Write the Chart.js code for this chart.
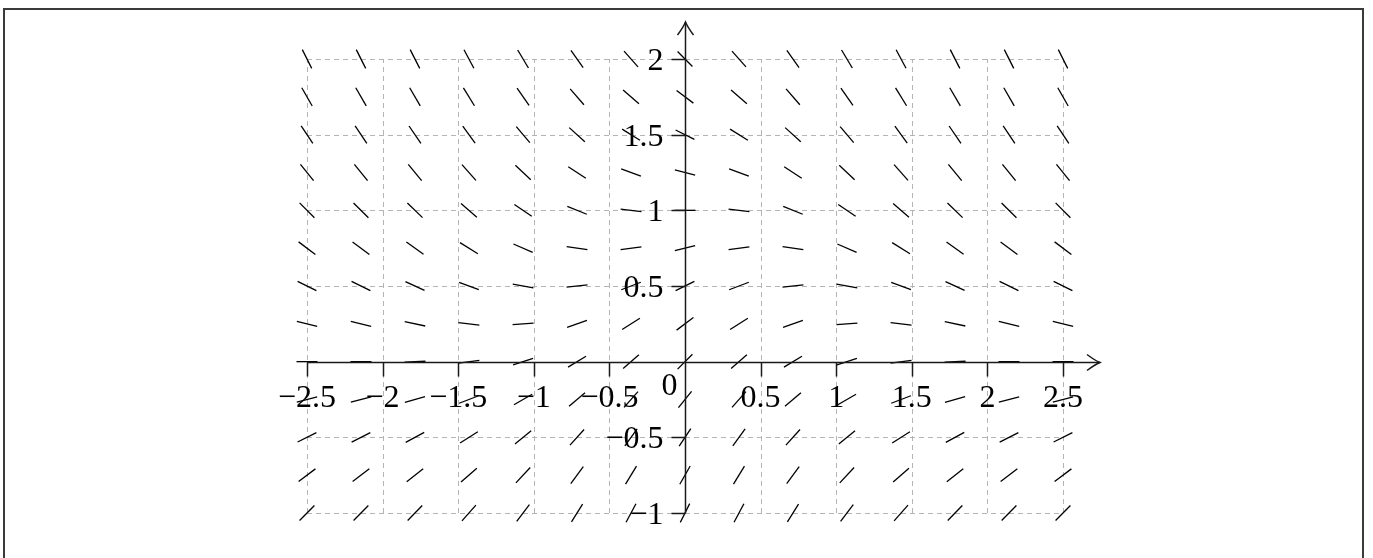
<!DOCTYPE html>
<html>
<head>
<meta charset="utf-8">
<script src="https://cdn.jsdelivr.net/npm/chart.js@4/dist/chart.umd.min.js"></script>
<style>
  html, body { margin: 0; padding: 0; background: #fff; overflow: hidden; }
  #wrap { position: relative; width: 1373px; height: 558px; }
  #c { position: absolute; left: 0; top: 0; }
  #frame { position: absolute; left: 3px; top: 8px; width: 1361px; height: 600px;
           border: 2px solid #3a3a3a; pointer-events: none; box-sizing: border-box; }
</style>
</head>
<body>
<div id="wrap">
  <canvas id="c" width="1373" height="558"></canvas>
  <div id="frame"></div>
</div>
<script>
// Sample positions of the slope field
const xValues = [-2.5, -2.143, -1.786, -1.429, -1.071, -0.714, -0.357, 0, 0.357, 0.714, 1.071, 1.429, 1.786, 2.143, 2.5];
const yValues = [-1, -0.75, -0.5, -0.25, 0, 0.25, 0.5, 0.75, 1, 1.25, 1.5, 1.75, 2];

// Slope (dy/dx) read at each sample, one row per yValue
const slopeRowYm100 = [1.00, 1.01, 1.04, 1.13, 1.32, 1.60, 1.88, 2.00, 1.88, 1.60, 1.32, 1.13, 1.04, 1.01, 1.00];
const slopeRowYm075 = [0.75, 0.76, 0.79, 0.88, 1.07, 1.35, 1.63, 1.75, 1.63, 1.35, 1.07, 0.88, 0.79, 0.76, 0.75];
const slopeRowYm050 = [0.50, 0.51, 0.54, 0.63, 0.82, 1.10, 1.38, 1.50, 1.38, 1.10, 0.82, 0.63, 0.54, 0.51, 0.50];
const slopeRowYm025 = [0.25, 0.26, 0.29, 0.38, 0.57, 0.85, 1.13, 1.25, 1.13, 0.85, 0.57, 0.38, 0.29, 0.26, 0.25];
const slopeRowY000  = [0.00, 0.01, 0.04, 0.13, 0.32, 0.60, 0.88, 1.00, 0.88, 0.60, 0.32, 0.13, 0.04, 0.01, 0.00];
const slopeRowY025  = [-0.25, -0.24, -0.21, -0.12, 0.07, 0.35, 0.63, 0.75, 0.63, 0.35, 0.07, -0.12, -0.21, -0.24, -0.25];
const slopeRowY050  = [-0.50, -0.49, -0.46, -0.37, -0.18, 0.10, 0.38, 0.50, 0.38, 0.10, -0.18, -0.37, -0.46, -0.49, -0.50];
const slopeRowY075  = [-0.75, -0.74, -0.71, -0.62, -0.43, -0.15, 0.13, 0.25, 0.13, -0.15, -0.43, -0.62, -0.71, -0.74, -0.75];
const slopeRowY100  = [-1.00, -0.99, -0.96, -0.87, -0.68, -0.40, -0.12, 0.00, -0.12, -0.40, -0.68, -0.87, -0.96, -0.99, -1.00];
const slopeRowY125  = [-1.25, -1.24, -1.21, -1.12, -0.93, -0.65, -0.37, -0.25, -0.37, -0.65, -0.93, -1.12, -1.21, -1.24, -1.25];
const slopeRowY150  = [-1.50, -1.49, -1.46, -1.37, -1.18, -0.90, -0.62, -0.50, -0.62, -0.90, -1.18, -1.37, -1.46, -1.49, -1.50];
const slopeRowY175  = [-1.75, -1.74, -1.71, -1.62, -1.43, -1.15, -0.87, -0.75, -0.87, -1.15, -1.43, -1.62, -1.71, -1.74, -1.75];
const slopeRowY200  = [-2.00, -1.99, -1.96, -1.87, -1.68, -1.40, -1.12, -1.00, -1.12, -1.40, -1.68, -1.87, -1.96, -1.99, -2.00];
const slopeRows = [slopeRowYm100, slopeRowYm075, slopeRowYm050, slopeRowYm025, slopeRowY000, slopeRowY025,
                   slopeRowY050, slopeRowY075, slopeRowY100, slopeRowY125, slopeRowY150, slopeRowY175, slopeRowY200];

// Axis tick values and labels
const xTicks = [-2.5, -2, -1.5, -1, -0.5, 0, 0.5, 1, 1.5, 2, 2.5];
const xTickLabels = ['\u22122.5', '\u22122', '\u22121.5', '\u22121', '\u22120.5', '', '0.5', '1', '1.5', '2', '2.5'];
const yTicks = [-1, -0.5, 0, 0.5, 1, 1.5, 2];
const yTickLabels = ['\u22121', '\u22120.5', '', '0.5', '1', '1.5', '2'];
const originLabel = '0';

const points = [];
yValues.forEach((y, r) => {
  xValues.forEach((x, c) => {
    points.push({ x: x, y: y, m: slopeRows[r][c] });
  });
});

const FONT = '32px "Liberation Serif", "Times New Roman", serif';

const fieldPlugin = {
  id: 'fieldAxes',
  beforeDatasetsDraw(chart) {
    const ctx = chart.ctx, xs = chart.scales.x, ys = chart.scales.y;
    ctx.save();
    ctx.strokeStyle = '#b4b4b4';
    ctx.lineWidth = 1;
    ctx.setLineDash([5, 4]);
    const x0 = xs.getPixelForValue(xs.min), x1 = xs.getPixelForValue(xs.max);
    const y0 = ys.getPixelForValue(ys.min), y1 = ys.getPixelForValue(ys.max);
    xTicks.forEach(v => {
      const px = Math.round(xs.getPixelForValue(v)) + 0.5;
      ctx.beginPath(); ctx.moveTo(px, y0); ctx.lineTo(px, y1); ctx.stroke();
    });
    yTicks.forEach(v => {
      const py = Math.round(ys.getPixelForValue(v)) + 0.5;
      ctx.beginPath(); ctx.moveTo(x0, py); ctx.lineTo(x1, py); ctx.stroke();
    });
    ctx.restore();
  },
  afterDatasetsDraw(chart) {
    const ctx = chart.ctx, xs = chart.scales.x, ys = chart.scales.y;
    const ox = Math.round(xs.getPixelForValue(0)) + 0.5;
    const oy = Math.round(ys.getPixelForValue(0)) + 0.5;
    const xL = xs.getPixelForValue(xs.min), xR = xs.getPixelForValue(xs.max);
    const yB = ys.getPixelForValue(ys.min), yT = ys.getPixelForValue(ys.max);
    const ext = 37;
    ctx.save();
    ctx.strokeStyle = '#1a1a1a';
    ctx.lineWidth = 1.5;
    ctx.setLineDash([]);
    // x axis
    ctx.beginPath(); ctx.moveTo(xL, oy); ctx.lineTo(xR + ext, oy); ctx.stroke();
    ctx.beginPath();
    ctx.moveTo(xR + ext - 13, oy - 8); ctx.quadraticCurveTo(xR + ext - 5, oy - 2, xR + ext, oy);
    ctx.quadraticCurveTo(xR + ext - 5, oy + 2, xR + ext - 13, oy + 8);
    ctx.stroke();
    // y axis
    ctx.beginPath(); ctx.moveTo(ox, yB); ctx.lineTo(ox, yT - ext); ctx.stroke();
    ctx.beginPath();
    ctx.moveTo(ox - 8, yT - ext + 13); ctx.quadraticCurveTo(ox - 2, yT - ext + 5, ox, yT - ext);
    ctx.quadraticCurveTo(ox + 2, yT - ext + 5, ox + 8, yT - ext + 13);
    ctx.stroke();
    // ticks
    xTicks.forEach(v => {
      if (v === 0) return;
      const px = Math.round(xs.getPixelForValue(v)) + 0.5;
      ctx.beginPath(); ctx.moveTo(px, oy); ctx.lineTo(px, oy + 14); ctx.stroke();
    });
    yTicks.forEach(v => {
      if (v === 0) return;
      const py = Math.round(ys.getPixelForValue(v)) + 0.5;
      ctx.beginPath(); ctx.moveTo(ox, py); ctx.lineTo(ox - 14, py); ctx.stroke();
    });
    // labels
    ctx.fillStyle = '#000';
    ctx.font = FONT;
    ctx.textBaseline = 'alphabetic';
    ctx.textAlign = 'center';
    xTicks.forEach((v, i) => {
      if (!xTickLabels[i]) return;
      ctx.fillText(xTickLabels[i], xs.getPixelForValue(v), oy + 44);
    });
    ctx.textAlign = 'right';
    yTicks.forEach((v, i) => {
      if (!yTickLabels[i]) return;
      ctx.fillText(yTickLabels[i], ox - 22, ys.getPixelForValue(v) + 11);
    });
    ctx.textAlign = 'center';
    ctx.fillText(originLabel, ox - 16, oy + 32);
    ctx.restore();
  }
};

new Chart(document.getElementById('c'), {
  type: 'scatter',
  data: {
    datasets: [{
      data: points,
      clip: false,
      pointStyle: 'line',
      pointRadius: 10.5,
      pointHoverRadius: 10.5,
      borderColor: '#000',
      backgroundColor: '#000',
      borderWidth: 1.3,
      pointRotation: (c) => {
        const ch = c.chart, xs = ch.scales.x, ys = ch.scales.y;
        const m = c.raw ? c.raw.m : 0;
        const kx = xs.getPixelForValue(1) - xs.getPixelForValue(0);
        const ky = ys.getPixelForValue(0) - ys.getPixelForValue(1);
        return -Math.atan2(m * ky, kx) * 180 / Math.PI;
      }
    }]
  },
  options: {
    responsive: false,
    animation: false,
    events: [],
    layout: { padding: { left: 307, right: 310, top: 59, bottom: 45 } },
    plugins: { legend: { display: false }, tooltip: { enabled: false } },
    scales: {
      x: { type: 'linear', min: -2.5, max: 2.5, display: false },
      y: { type: 'linear', min: -1, max: 2, display: false }
    }
  },
  plugins: [fieldPlugin]
});
</script>
</body>
</html>
